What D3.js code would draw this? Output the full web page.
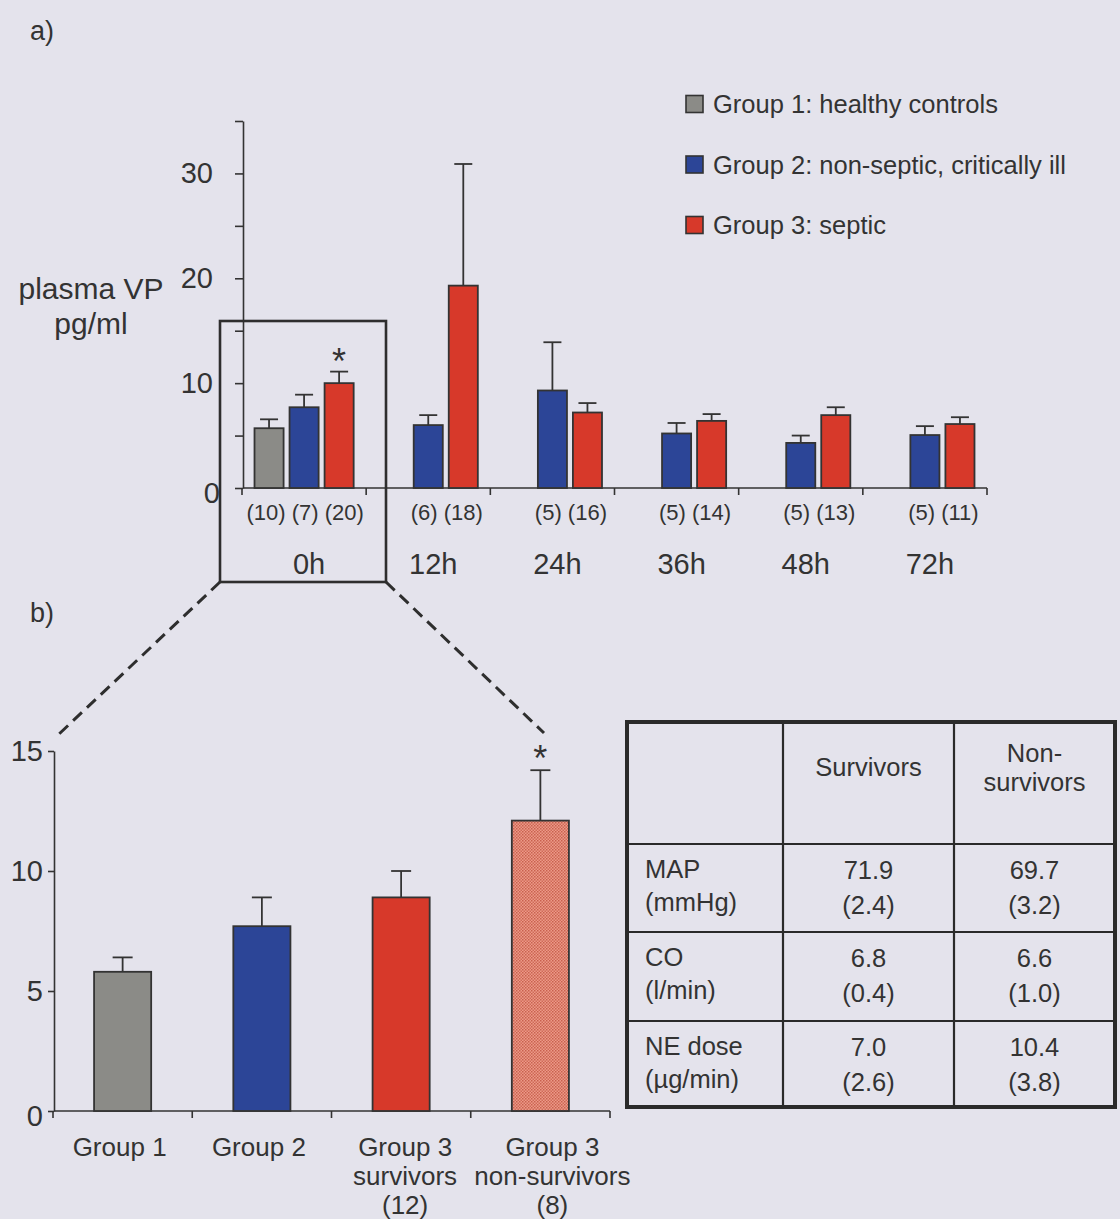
<!DOCTYPE html>
<html><head><meta charset="utf-8">
<script src="https://cdn.jsdelivr.net/npm/d3@7"></script>
<style>
html,body{margin:0;padding:0;background:#e4e3ec;}
svg{display:block;font-family:"Liberation Sans",Arial,Helvetica,sans-serif;}
</style></head><body>
<svg id="c" width="1120" height="1219"></svg>
<script>
// ---------- DATA ----------
const timepoints = ["0h", "12h", "24h", "36h", "48h", "72h"];
const groupKeys = ["g1", "g2", "g3"];
const groupNames = ["Group 1: healthy controls", "Group 2: non-septic, critically ill", "Group 3: septic"];
const groupColors = ["#8b8b87", "#2c4597", "#d7392a"];
// means and SEM (upper error) per timepoint
const g1Mean = [5.7, null, null, null, null, null];
const g1Sem  = [0.85, null, null, null, null, null];
const g2Mean = [7.7, 6.0, 9.3, 5.2, 4.3, 5.05];
const g2Sem  = [1.2, 0.95, 4.6, 1.0, 0.7, 0.85];
const g3Mean = [10.0, 19.3, 7.2, 6.4, 6.95, 6.1];
const g3Sem  = [1.1, 11.6, 0.9, 0.65, 0.75, 0.65];
const g1N = [10, null, null, null, null, null];
const g2N = [7, 6, 5, 5, 5, 5];
const g3N = [20, 18, 16, 14, 13, 11];
const sigG3A  = [true, false, false, false, false, false];
const yTicksA = [0, 5, 10, 15, 20, 25, 30, 35];
const yLabelsA = [0, 10, 20, 30];

// panel b
const catsB = ["Group 1", "Group 2", "Group 3 survivors", "Group 3 non-survivors"];
const catLinesB = [["Group 1"], ["Group 2"], ["Group 3", "survivors", "(12)"], ["Group 3", "non-survivors", "(8)"]];
const meanB = [5.8, 7.7, 8.9, 12.1];
const semB  = [0.6, 1.2, 1.1, 2.1];
const colorB = ["#8b8b87", "#2c4597", "#d7392a", "url(#hatch)"];
const sigB  = [false, false, false, true];
const yTicksB = [0, 5, 10, 15];

// table
const tableCols = [["Survivors"], ["Non-", "survivors"]];
const tableRows = ["MAP", "CO", "NE dose"];
const tableUnits = ["(mmHg)", "(l/min)", "(µg/min)"];
const survMean = ["71.9", "6.8", "7.0"];
const survSD = ["(2.4)", "(0.4)", "(2.6)"];
const nonSurvMean = ["69.7", "6.6", "10.4"];
const nonSurvSD = ["(3.2)", "(1.0)", "(3.8)"];

// ---------- DRAW ----------
const ink = "#333333";
const svg = d3.select("#c");
const defs = svg.append("defs");
const pat = defs.append("pattern").attr("id", "hatch").attr("patternUnits", "userSpaceOnUse")
  .attr("width", 3).attr("height", 3);
pat.append("rect").attr("width", 3).attr("height", 3).attr("fill", "#ec9a88");
pat.append("rect").attr("width", 1.5).attr("height", 1.5).attr("fill", "#c9604e");
pat.append("rect").attr("x", 1.5).attr("y", 1.5).attr("width", 1.5).attr("height", 1.5).attr("fill", "#d06a58");

svg.append("text").attr("x", 30).attr("y", 40).attr("font-size", 27).attr("fill", ink).text("a)");
svg.append("text").attr("x", 30).attr("y", 622).attr("font-size", 27).attr("fill", ink).text("b)");

// ----- panel a -----
const yA = d3.scaleLinear().domain([0, 35]).range([488, 121]);
const xA = d3.scaleBand().domain(timepoints).range([242, 987]);
const xIn = d3.scaleBand().domain(groupKeys).range([0, xA.bandwidth()]).paddingInner(0.17).paddingOuter(0.357);

const means = [g1Mean, g2Mean, g3Mean];
const sems = [g1Sem, g2Sem, g3Sem];
const ns = [g1N, g2N, g3N];

const gA = svg.append("g");
// y axis
const axA = d3.axisLeft(yA).tickValues(yTicksA).tickSize(8).tickSizeOuter(0).tickPadding(22)
  .tickFormat(d => yLabelsA.includes(d) ? d : "");
const yAxG = gA.append("g").attr("transform", "translate(243,0)").call(axA);
yAxG.selectAll("path,line").attr("stroke", ink).attr("stroke-width", 1.6);
yAxG.selectAll("text").attr("font-size", 29).attr("fill", ink).attr("font-family", "Liberation Sans, Arial, sans-serif");
yAxG.selectAll(".tick").filter(d => d === 0).select("text").attr("dx", 7).attr("dy", "0.5em");

// x axis baseline & ticks
gA.append("line").attr("x1", 243).attr("x2", xA.range()[1]).attr("y1", yA(0)).attr("y2", yA(0))
  .attr("stroke", ink).attr("stroke-width", 1.6);
const bounds = timepoints.map(t => xA(t)).concat([xA.range()[1]]);
gA.selectAll(".xt").data(bounds).enter().append("line")
  .attr("x1", d => d).attr("x2", d => d).attr("y1", yA(0)).attr("y2", yA(0) + 7)
  .attr("stroke", ink).attr("stroke-width", 1.6);

// bars
timepoints.forEach((t, i) => {
  const present = [];
  groupKeys.forEach((k, gi) => {
    const m = means[gi][i];
    if (m == null) return;
    const x = xA(t) + xIn(k);
    const w = xIn.bandwidth();
    present.push({x, w, gi});
    const top = yA(m + sems[gi][i]);
    const cx = x + w / 2;
    gA.append("line").attr("x1", cx).attr("x2", cx).attr("y1", yA(m)).attr("y2", top)
      .attr("stroke", ink).attr("stroke-width", 1.8);
    gA.append("line").attr("x1", cx - 9).attr("x2", cx + 9).attr("y1", top).attr("y2", top)
      .attr("stroke", ink).attr("stroke-width", 1.8);
    gA.append("rect").attr("x", x).attr("y", yA(m)).attr("width", w).attr("height", yA(0) - yA(m))
      .attr("fill", groupColors[gi]).attr("stroke", ink).attr("stroke-width", 1.8);
    if (gi === 2 && sigG3A[i]) {
      gA.append("text").attr("x", cx).attr("y", top + 2).attr("text-anchor", "middle")
        .attr("font-size", 36).attr("fill", ink).text("*");
    }
  });
  const c = d3.mean(present, p => p.x + p.w / 2);
  const label = present.map(p => "(" + ns[p.gi][i] + ")").join(" ");
  gA.append("text").attr("x", c + 1).attr("y", 520).attr("text-anchor", "middle")
    .attr("font-size", 22).attr("fill", ink).text(label);
  gA.append("text").attr("x", xA(t) + xA.bandwidth() / 2 + 5).attr("y", 574).attr("text-anchor", "middle")
    .attr("font-size", 29).attr("fill", ink).text(t);
});

// axis title
gA.append("text").attr("x", 91).attr("y", 299).attr("text-anchor", "middle").attr("font-size", 30)
  .attr("fill", ink).text("plasma VP");
gA.append("text").attr("x", 91).attr("y", 334).attr("text-anchor", "middle").attr("font-size", 30)
  .attr("fill", ink).text("pg/ml");

// legend
groupNames.forEach((n, i) => {
  const cy = 104 + i * 60.5;
  gA.append("rect").attr("x", 686).attr("y", cy - 8.5).attr("width", 17).attr("height", 17)
    .attr("fill", groupColors[i]).attr("stroke", ink).attr("stroke-width", 1.6);
  gA.append("text").attr("x", 713).attr("y", cy + 9).attr("font-size", 25.5).attr("fill", ink).text(n);
});

// zoom box & dashed connectors
svg.append("rect").attr("x", 220).attr("y", 321).attr("width", 166).attr("height", 261)
  .attr("fill", "none").attr("stroke", "#2e2e2e").attr("stroke-width", 2.6);
svg.append("line").attr("x1", 220).attr("y1", 582).attr("x2", 58).attr("y2", 735)
  .attr("stroke", "#2e2e2e").attr("stroke-width", 3).attr("stroke-dasharray", "12,7");
svg.append("line").attr("x1", 386).attr("y1", 582).attr("x2", 544).attr("y2", 733)
  .attr("stroke", "#2e2e2e").attr("stroke-width", 3).attr("stroke-dasharray", "12,7");

// ----- panel b -----
const yB = d3.scaleLinear().domain([0, 15]).range([1111, 751]);
const xB = d3.scaleBand().domain(catsB).range([53, 610]).paddingInner(0.59).paddingOuter(0.295);
const xBb = d3.scaleBand().domain(catsB).range([53, 610]);
const gB = svg.append("g");
const axB = d3.axisLeft(yB).tickValues(yTicksB).tickSize(6).tickSizeOuter(0).tickPadding(5);
const yBx = gB.append("g").attr("transform", "translate(54,0)").call(axB);
yBx.selectAll("path,line").attr("stroke", ink).attr("stroke-width", 1.6);
yBx.selectAll("text").attr("font-size", 29).attr("fill", ink).attr("font-family", "Liberation Sans, Arial, sans-serif");
yBx.selectAll(".tick").filter(d => d === 0).select("text").attr("dy", "0.5em");

gB.append("line").attr("x1", 54).attr("x2", 610).attr("y1", yB(0)).attr("y2", yB(0))
  .attr("stroke", ink).attr("stroke-width", 1.6);
const bB = catsB.map(c => xBb(c)).concat([xBb.range()[1]]);
gB.selectAll(".xtb").data(bB).enter().append("line")
  .attr("x1", d => d).attr("x2", d => d).attr("y1", yB(0)).attr("y2", yB(0) + 7)
  .attr("stroke", ink).attr("stroke-width", 1.6);

catsB.forEach((c, i) => {
  const x = xB(c), w = xB.bandwidth(), cx = x + w / 2;
  const top = yB(meanB[i] + semB[i]);
  gB.append("line").attr("x1", cx).attr("x2", cx).attr("y1", yB(meanB[i])).attr("y2", top)
    .attr("stroke", ink).attr("stroke-width", 1.8);
  gB.append("line").attr("x1", cx - 10).attr("x2", cx + 10).attr("y1", top).attr("y2", top)
    .attr("stroke", ink).attr("stroke-width", 1.8);
  gB.append("rect").attr("x", x).attr("y", yB(meanB[i])).attr("width", w).attr("height", yB(0) - yB(meanB[i]))
    .attr("fill", colorB[i]).attr("stroke", ink).attr("stroke-width", 1.8);
  if (sigB[i]) {
    gB.append("text").attr("x", cx).attr("y", top + 1).attr("text-anchor", "middle")
      .attr("font-size", 36).attr("fill", ink).text("*");
  }
  const lx = xBb(c) + xBb.bandwidth() / 2 + (i === 3 ? 12 : i === 2 ? 4 : -3);
  catLinesB[i].forEach((ln, li) => {
    gB.append("text").attr("x", lx).attr("y", 1156 + li * 29).attr("text-anchor", "middle")
      .attr("font-size", 26).attr("fill", ink).text(ln);
  });
});

// ----- table -----
const tX = [627, 783, 954, 1115];
const tY = [722, 844, 932, 1021, 1107];
const gT = svg.append("g");
tX.slice(1, 3).forEach(x => gT.append("line").attr("x1", x).attr("x2", x).attr("y1", tY[0]).attr("y2", tY[4])
  .attr("stroke", "#2a2a2a").attr("stroke-width", 2.2));
tY.slice(1, 4).forEach(y => gT.append("line").attr("x1", tX[0]).attr("x2", tX[3]).attr("y1", y).attr("y2", y)
  .attr("stroke", "#2a2a2a").attr("stroke-width", 2.2));
gT.append("rect").attr("x", tX[0]).attr("y", tY[0]).attr("width", tX[3] - tX[0]).attr("height", tY[4] - tY[0])
  .attr("fill", "none").attr("stroke", "#2a2a2a").attr("stroke-width", 4);

const colC = [(tX[1] + tX[2]) / 2, (tX[2] + tX[3]) / 2];
gT.append("text").attr("x", colC[0]).attr("y", 776).attr("text-anchor", "middle").attr("font-size", 25.5)
  .attr("fill", ink).text(tableCols[0][0]);
tableCols[1].forEach((ln, li) => gT.append("text").attr("x", colC[1]).attr("y", 762 + li * 29)
  .attr("text-anchor", "middle").attr("font-size", 25.5).attr("fill", ink).text(ln));
tableRows.forEach((r, i) => {
  const y0 = tY[i + 1];
  gT.append("text").attr("x", 645).attr("y", y0 + 34).attr("font-size", 25.5).attr("fill", ink).text(r);
  gT.append("text").attr("x", 645).attr("y", y0 + 67).attr("font-size", 25.5).attr("fill", ink).text(tableUnits[i]);
  gT.append("text").attr("x", colC[0]).attr("y", y0 + 35).attr("text-anchor", "middle").attr("font-size", 25.5).attr("fill", ink).text(survMean[i]);
  gT.append("text").attr("x", colC[0]).attr("y", y0 + 70).attr("text-anchor", "middle").attr("font-size", 25.5).attr("fill", ink).text(survSD[i]);
  gT.append("text").attr("x", colC[1]).attr("y", y0 + 35).attr("text-anchor", "middle").attr("font-size", 25.5).attr("fill", ink).text(nonSurvMean[i]);
  gT.append("text").attr("x", colC[1]).attr("y", y0 + 70).attr("text-anchor", "middle").attr("font-size", 25.5).attr("fill", ink).text(nonSurvSD[i]);
});
</script>
</body></html>
